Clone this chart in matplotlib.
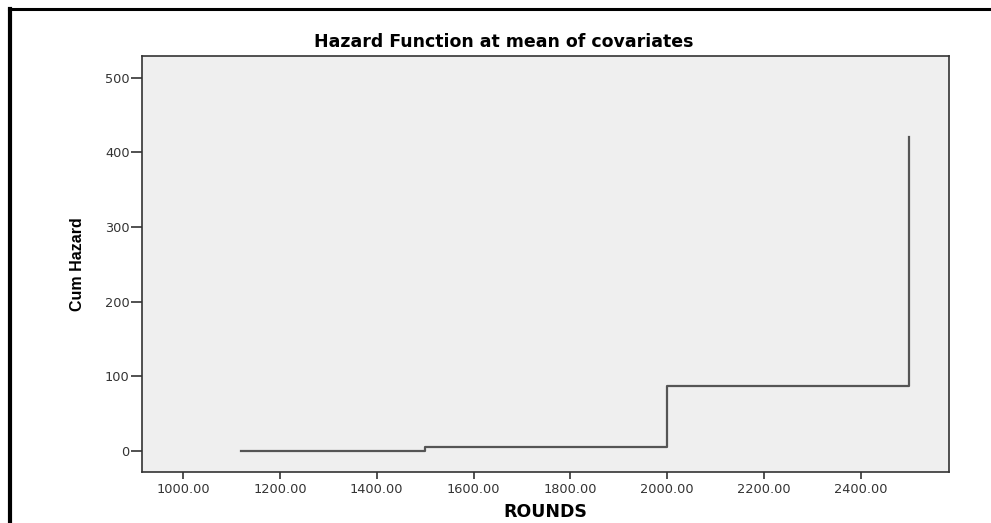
import matplotlib.pyplot as plt
from matplotlib.lines import Line2D

# step points of the cumulative hazard
rounds = [1120, 1500, 2000, 2500]
cum_hazard = [0, 5, 87, 420]

x_ticks = [1000, 1200, 1400, 1600, 1800, 2000, 2200, 2400]
x_labels = ["%.2f" % t for t in x_ticks]
y_ticks = [0, 100, 200, 300, 400, 500]

W, H = 991, 523
fig = plt.figure(figsize=(W / 100, H / 100), dpi=100)
fig.patch.set_facecolor("white")

# outer frame (only top and left visible in screenshot)
fig.add_artist(Line2D([9 / W, 1], [1 - 9 / H, 1 - 9 / H], color="black", lw=2.2,
                      transform=fig.transFigure))
fig.add_artist(Line2D([10 / W, 10 / W], [0, 1 - 9 / H], color="black", lw=3,
                      transform=fig.transFigure))

left, right, top, bottom = 142, 949, 56, 472
ax = fig.add_axes([left / W, 1 - bottom / H, (right - left) / W, (bottom - top) / H])
ax.set_facecolor("#efefef")

ax.plot(rounds, cum_hazard, drawstyle="steps-post", color="#555555", lw=1.6)

ax.set_xlim(915, 2582)
ax.set_ylim(-28, 529)
ax.set_xticks(x_ticks)
ax.set_xticklabels(x_labels)
ax.set_yticks(y_ticks)

for s in ax.spines.values():
    s.set_color("#333333")
    s.set_linewidth(1.2)

ax.tick_params(direction="out", width=1.2, color="#333333",
               labelsize=9.3, labelcolor="#333333")
ax.tick_params(axis="x", length=5, pad=3)
ax.tick_params(axis="y", length=8, pad=1)
for lab in ax.get_xticklabels() + ax.get_yticklabels():
    lab.set_fontfamily("DejaVu Sans")

# title sits a bit left of the plot centre in the original
fig.text(504 / W, 1 - 42 / H, "Hazard Function at mean of covariates",
         fontsize=12.5, fontweight="bold", family="DejaVu Sans",
         ha="center", va="center")
ax.set_xlabel("ROUNDS", fontsize=12.5, fontweight="bold",
              family="DejaVu Sans", labelpad=5)
ax.set_ylabel("Cum Hazard", fontsize=11.5, fontweight="bold",
              family=["Liberation Sans Narrow", "Liberation Sans"], labelpad=14)

fig.savefig("out.png", dpi=100)
